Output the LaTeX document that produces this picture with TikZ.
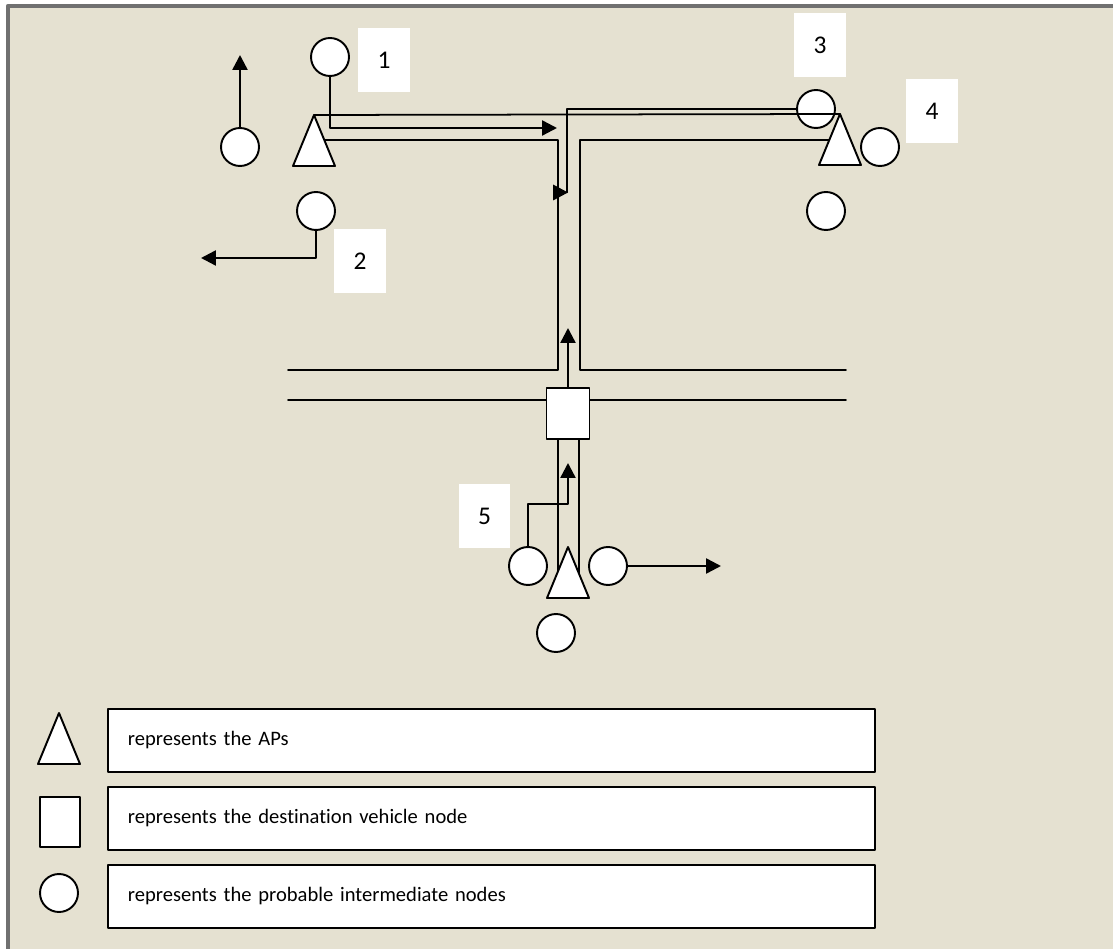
\documentclass[tikz,border=0pt]{standalone}
\usepackage{fontspec}
\setmainfont{Carlito}[Ligatures=NoCommon]
\usepackage{xcolor}
\usepackage{tikz}
\usetikzlibrary{arrows.meta,calc,positioning}
\definecolor{paper}{RGB}{229,225,209}
\definecolor{frame}{RGB}{112,112,112}
\tikzset{%
        inode/.style = { circle, draw, fill=white, line width=1.1pt, minimum size=0.76cm, inner sep=0pt },
         dest/.style = { rectangle, draw, fill=white, line width=1.1pt, minimum width=0.86cm, minimum height=1.02cm, inner sep=0pt },
      apshape/.style = { draw, fill=white, line width=1.1pt },
         road/.style = { line width=1pt },
        route/.style = { line width=1.4pt, -> },
       numtag/.style = { fill=white, minimum width=1.04cm, minimum height=1.28cm, inner sep=0pt, font=\fontsize{14.5}{16}\selectfont },
       legbox/.style = { draw, fill=white, line width=1.1pt, anchor=west, minimum height=1.26cm, text width=14.54cm, inner xsep=0.4cm, align=left, font=\fontsize{11.7}{14}\selectfont }
}
\newcommand{\apmark}[1]{\draw[apshape] (#1) -- ++(21,51) -- ++(-42,0) -- cycle;}

\begin{document}
\begin{tikzpicture}[line cap=round,line join=round,>={Triangle[length=0.3cm,width=0.3cm]},x=0.02cm,y=-0.02cm]
\useasboundingbox (0,0) rectangle (1113,949);
\fill[paper] (8,6) rectangle (1113,949);
\draw[frame,line width=2.5pt,line cap=rect] (8,949) -- (8,6) -- (1113,6);

\coordinate (ap1) at (314,115);
\coordinate (ap2) at (840,114);
\coordinate (ap3) at (568,547);

% roads
\draw[road] (320,140) -- (558,140) -- (558,370) -- (288,370);
\draw[road] (835,140) -- (580,140) -- (580,370) -- (846,370);
\draw[road] (288,400) -- (846,400);
\draw[road] (558,430) -- (558,575);
\draw[road] (579,430) -- (579,575);

% APs, vehicle and intermediate nodes
\node[dest] (dest) at (568,413.5) {};
\apmark{ap1}
\apmark{ap2}
\apmark{ap3}
\node[inode] (c1) at (330,57) {};
\node[inode] (cw) at (240,147) {};
\node[inode] (c2) at (316,211) {};
\node[inode] (c3) at (816,109) {};
\node[inode] (c4) at (880,147) {};
\node[inode] (c6) at (826,211) {};
\node[inode] (c5l) at (528,566) {};
\node[inode] (c5r) at (608,566) {};
\node[inode] (c5b) at (556,633) {};
\draw[road] (ap1) -- (ap2);

% routes
\coordinate (t1) at (557,128);
\coordinate (tw) at (240,55);
\coordinate (t2) at (201,258);
\coordinate (t3) at (567,192);
\coordinate (td) at (568,328);
\coordinate (k5) at (568,504);
\coordinate (t5) at (568,463);
\coordinate (tr) at (721,566);
\draw[route] (c1.south) |- (t1);
\draw[route] (cw.north) -- (tw);
\draw[route] (c2.south) |- (t2);
\draw[route,-] (c3.west) -| (t3);
\fill ($(t3)+(-14,-7.5)$) -- ($(t3)+(1,0.5)$) -- ($(t3)+(-14,8.5)$) -- cycle;
\draw[route] (dest.north) -- (td);
\draw[route] (c5l.north) |- (k5) -- (t5);
\draw[route] (c5r.east) -- (tr);

% labels
\node[numtag] (n1) at (384,60) {1};
\node[numtag] (n2) at (360,261) {2};
\node[numtag] (n3) at (820,45) {3};
\node[numtag] (n4) at (932,111) {4};
\node[numtag] (n5) at (484.5,516) {5};

% legend
\apmark{59,713}
\node[dest,minimum width=0.8cm,minimum height=1cm] (legdest) at (60,822) {};
\node[inode] (legnode) at (59,893) {};
\node[legbox] (legap) at (107,740.5) {represents the APs};
\node[legbox] (legveh) at (107,818.5) {represents the destination vehicle node};
\node[legbox] (legint) at (107,896.5) {represents the probable intermediate nodes};
\end{tikzpicture}
\end{document}
